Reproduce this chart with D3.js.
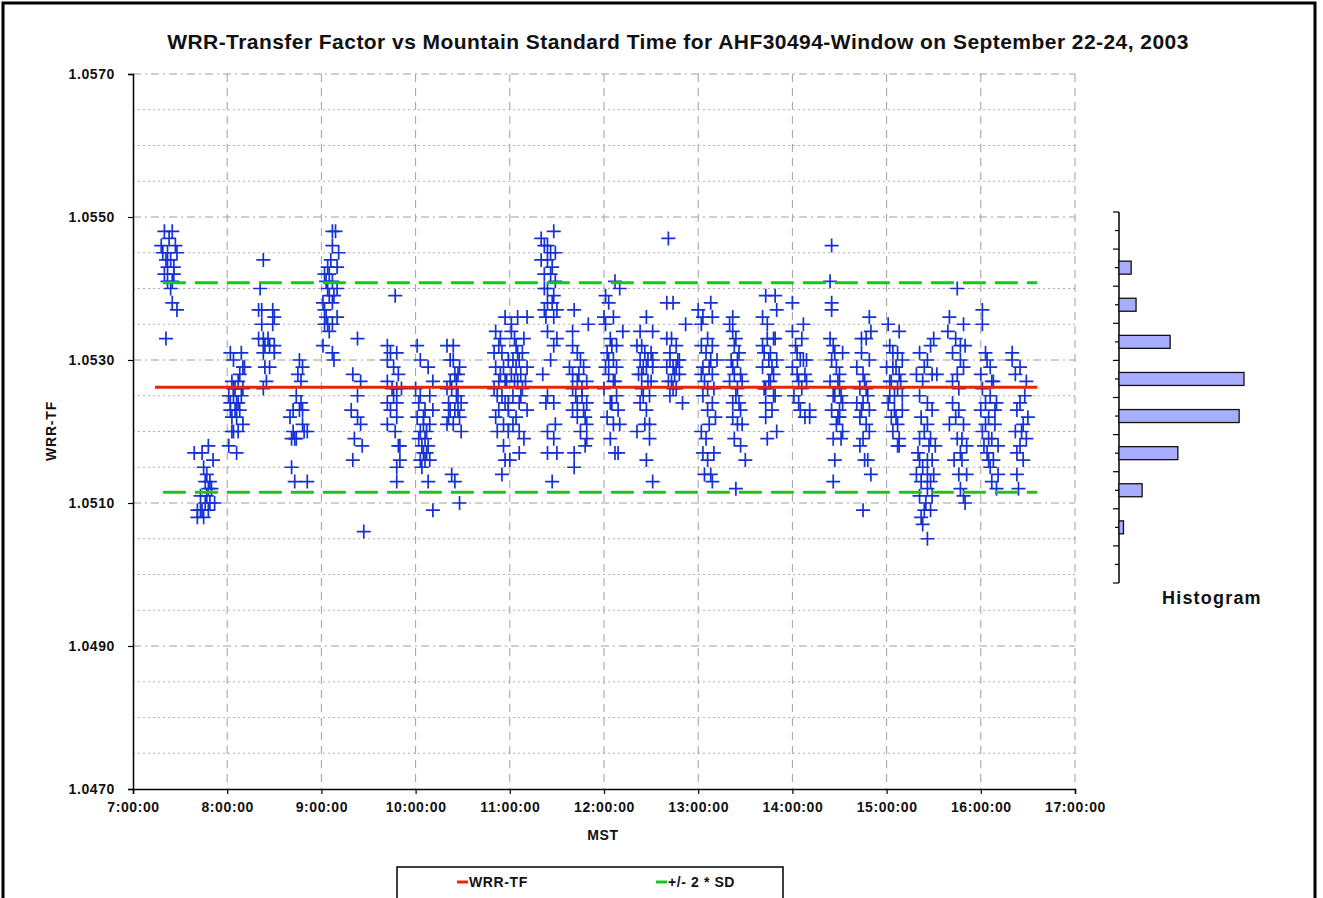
<!DOCTYPE html>
<html>
<head>
<meta charset="utf-8">
<script src="https://cdn.jsdelivr.net/npm/d3@7"></script>
<style>
  body { margin: 0; background: #fff; }
  text { font-family: "Liberation Sans", Arial, sans-serif; font-weight: bold; fill: #111; }
</style>
</head>
<body>
<div id="chart"></div>
<script>
var width = 1323;
var height = 898;

// chart values
const titleText = "WRR-Transfer Factor vs Mountain Standard Time for AHF30494-Window on September 22-24, 2003";
const yTicks = [1.0470, 1.0490, 1.0510, 1.0530, 1.0550, 1.0570];
const meanTF = 1.05262;
const upper2SD = 1.05408;
const lower2SD = 1.05115;
const lineStart = "7:14";
const sdStart = "7:19";
const lineEnd = "16:36";

// histogram (bins from high to low TF)
const histBins = [1.0550, 1.0545, 1.0540, 1.0535, 1.0530, 1.0525, 1.0520, 1.0515, 1.0510, 1.0505];
const histCounts = [0, 30, 42, 126, 308, 296, 145, 57, 11, 0];

// WRR-TF readings [MST, value]
const wrrPoints = [
  ["7:20",1.0548],["7:25",1.0548],["7:19",1.0545],["7:22",1.0545],["7:27",1.0546],["7:28",1.0545],["7:24",1.0544],["7:22",1.0543],["7:26",1.0543],["7:20",1.0542],["7:22",1.0541],["7:25",1.0541],["7:24",1.0540],["7:25",1.0538],["7:28",1.0537],["7:21",1.0533],["7:18",1.0546],["7:23",1.0547],["7:26",1.0542],["7:21",1.0544],
  ["7:39",1.0517],["7:48",1.0518],["7:44",1.0517],["7:51",1.0516],["7:45",1.0515],["7:47",1.0514],["7:49",1.0513],["7:46",1.0513],["7:48",1.0512],["7:50",1.0512],["7:43",1.0511],["7:46",1.0510],["7:49",1.0510],["7:41",1.0509],["7:44",1.0509],["7:48",1.0509],["7:52",1.0510],["7:41",1.0508],["7:45",1.0508],["7:47",1.0511],["7:43",1.0509],
  ["8:02",1.0531],["8:09",1.0531],["8:04",1.0530],["8:10",1.0529],["8:11",1.0529],["8:08",1.0528],["8:07",1.0527],["8:01",1.0525],["8:04",1.0525],["8:06",1.0524],["8:02",1.0523],["8:05",1.0523],["8:08",1.0523],["8:03",1.0522],["8:06",1.0522],["8:10",1.0521],["8:04",1.0520],["8:07",1.0520],["8:01",1.0518],["8:06",1.0517],["8:02",1.0524],["8:09",1.0525],["8:04",1.0526],["8:10",1.0526],
  ["8:03",1.0527],["8:05",1.0526],["8:07",1.0524],["8:03",1.0520],
  ["8:23",1.0544],["8:21",1.0540],["8:20",1.0537],["8:22",1.0537],["8:29",1.0537],["8:30",1.0536],["8:22",1.0535],["8:29",1.0535],["8:20",1.0533],["8:23",1.0533],["8:26",1.0533],["8:24",1.0532],["8:27",1.0532],["8:30",1.0532],["8:23",1.0531],["8:30",1.0531],["8:24",1.0529],["8:27",1.0529],["8:25",1.0527],["8:23",1.0526],
  ["8:41",1.0515],["8:43",1.0513],["8:51",1.0513],["8:40",1.0522],["8:42",1.0523],["8:46",1.0523],["8:48",1.0523],["8:47",1.0524],["8:44",1.0525],["8:45",1.0528],["8:46",1.0530],["8:48",1.0529],["8:47",1.0527],["8:42",1.0520],["8:44",1.0519],["8:43",1.0519],["8:49",1.0520],["8:51",1.0520],["8:41",1.0519],["8:48",1.0521],
  ["9:07",1.0548],["9:09",1.0548],["9:07",1.0546],["9:11",1.0545],["9:04",1.0543],["9:05",1.0542],["9:10",1.0543],["9:02",1.0542],["9:07",1.0541],["9:04",1.0540],["9:10",1.0540],["9:05",1.0539],["9:01",1.0538],["9:07",1.0538],["9:02",1.0537],["9:10",1.0536],["9:04",1.0535],["9:07",1.0535],["9:02",1.0535],["9:05",1.0534],["9:01",1.0532],["9:07",1.0531],["9:08",1.0530],
  ["9:03",1.0541],["9:06",1.0544],["9:08",1.0539],["9:03",1.0536],
  ["9:23",1.0533],["9:20",1.0528],["9:25",1.0527],["9:23",1.0525],["9:19",1.0523],["9:23",1.0522],["9:25",1.0521],["9:21",1.0519],["9:26",1.0518],["9:20",1.0516],["9:27",1.0506],
  ["9:47",1.0539],["9:42",1.0532],["9:44",1.0531],["9:48",1.0531],["9:42",1.0530],["9:46",1.0529],["9:49",1.0528],["9:42",1.0527],["9:45",1.0526],["9:48",1.0526],["9:51",1.0526],["9:46",1.0525],["9:42",1.0524],["9:48",1.0524],["9:44",1.0523],["9:48",1.0522],["9:42",1.0521],["9:47",1.0520],["9:49",1.0518],["9:50",1.0518],["9:50",1.0516],["9:48",1.0515],["9:48",1.0513],
  ["10:01",1.0532],["10:03",1.0530],["10:08",1.0529],["10:11",1.0527],["10:00",1.0526],["10:03",1.0525],["10:06",1.0523],["10:11",1.0523],["10:01",1.0522],["10:05",1.0521],["10:09",1.0521],["10:03",1.0520],["10:06",1.0519],["10:08",1.0518],["10:05",1.0517],["10:09",1.0516],["10:03",1.0516],["10:06",1.0516],["10:08",1.0513],["10:11",1.0509],["10:04",1.0518],["10:07",1.0520],["10:02",1.0519],
  ["10:02",1.0524],["10:05",1.0522],["10:09",1.0525],["10:04",1.0515],["10:07",1.0517],
  ["10:20",1.0532],["10:24",1.0532],["10:24",1.0530],["10:28",1.0529],["10:27",1.0528],["10:20",1.0526],["10:26",1.0525],["10:21",1.0524],["10:25",1.0523],["10:29",1.0524],["10:22",1.0523],["10:28",1.0522],["10:24",1.0521],["10:29",1.0520],["10:23",1.0514],["10:25",1.0513],["10:28",1.0510],["10:22",1.0527],["10:26",1.0527],["10:23",1.0526],["10:27",1.0525],["10:21",1.0522],
  ["10:25",1.0528],["10:22",1.0530],["10:27",1.0523],["10:20",1.0521],
  ["10:51",1.0534],["10:57",1.0536],["11:01",1.0535],["10:53",1.0532],["10:55",1.0531],["10:59",1.0530],["10:51",1.0529],["10:56",1.0529],["10:53",1.0527],["10:57",1.0527],["10:50",1.0526],["10:55",1.0525],["10:59",1.0524],["10:53",1.0523],["10:59",1.0523],["10:51",1.0522],["10:56",1.0521],["10:59",1.0520],["10:57",1.0516],["11:00",1.0516],["10:55",1.0514],["10:54",1.0528],["10:52",1.0525],["10:57",1.0524],
  ["10:50",1.0531],["10:54",1.0533],["10:58",1.0527],["10:52",1.0520],["10:56",1.0518],
  ["11:05",1.0536],["11:11",1.0536],["11:01",1.0534],["11:04",1.0532],["11:08",1.0531],["11:02",1.0530],["11:06",1.0530],["11:11",1.0529],["11:01",1.0528],["11:05",1.0527],["11:08",1.0526],["11:02",1.0525],["11:06",1.0524],["11:11",1.0523],["11:02",1.0521],["11:06",1.0520],["11:09",1.0519],["11:06",1.0517],["11:05",1.0531],["11:03",1.0527],["11:07",1.0528],["11:04",1.0529],
  ["11:03",1.0533],["11:09",1.0533],["11:07",1.0525],["11:10",1.0527],["11:04",1.0522],
  ["11:20",1.0547],["11:28",1.0548],["11:22",1.0546],["11:24",1.0546],["11:29",1.0545],["11:20",1.0544],["11:24",1.0544],["11:27",1.0543],["11:22",1.0542],["11:26",1.0542],["11:29",1.0541],["11:24",1.0540],["11:28",1.0539],["11:24",1.0538],["11:30",1.0537],["11:22",1.0537],["11:23",1.0536],["11:28",1.0536],["11:24",1.0534],["11:30",1.0533],["11:28",1.0532],["11:26",1.0530],["11:21",1.0528],["11:24",1.0525],["11:28",1.0524],["11:23",1.0524],["11:29",1.0521],["11:24",1.0520],["11:28",1.0519],["11:24",1.0517],["11:30",1.0517],["11:27",1.0513],
  ["11:26",1.0545],["11:22",1.0540],["11:27",1.0538],
  ["11:41",1.0537],["11:50",1.0535],["11:40",1.0534],["11:40",1.0532],["11:43",1.0531],["11:45",1.0530],["11:38",1.0529],["11:47",1.0529],["11:40",1.0528],["11:43",1.0527],["11:49",1.0527],["11:40",1.0526],["11:46",1.0525],["11:43",1.0524],["11:49",1.0524],["11:40",1.0523],["11:47",1.0523],["11:43",1.0522],["11:49",1.0521],["11:45",1.0520],["11:49",1.0519],["11:41",1.0517],["11:48",1.0518],["11:41",1.0515],
  ["11:44",1.0528],["11:46",1.0526],["11:42",1.0525],["11:48",1.0522],
  ["12:07",1.0541],["12:10",1.0540],["12:01",1.0539],["12:03",1.0538],["12:00",1.0536],["12:06",1.0536],["12:01",1.0535],["12:12",1.0534],["12:04",1.0533],["12:08",1.0532],["12:02",1.0531],["12:06",1.0530],["12:01",1.0529],["12:08",1.0529],["12:03",1.0528],["12:06",1.0527],["12:00",1.0526],["12:08",1.0525],["12:04",1.0524],["12:09",1.0523],["12:02",1.0522],["12:06",1.0521],["12:10",1.0521],["12:04",1.0519],["12:07",1.0517],["12:09",1.0517],
  ["12:05",1.0532],["12:03",1.0530],["12:07",1.0527],["12:05",1.0524],
  ["12:23",1.0534],["12:27",1.0536],["12:31",1.0534],["12:21",1.0532],["12:26",1.0531],["12:31",1.0530],["12:23",1.0530],["12:27",1.0529],["12:31",1.0529],["12:22",1.0528],["12:28",1.0527],["12:25",1.0525],["12:29",1.0525],["12:23",1.0524],["12:27",1.0523],["12:26",1.0521],["12:29",1.0521],["12:21",1.0520],["12:29",1.0519],["12:27",1.0516],["12:31",1.0513],["12:24",1.0528],["12:30",1.0527],
  ["12:24",1.0532],["12:28",1.0530],["12:25",1.0529],["12:30",1.0531],["12:24",1.0526],
  ["12:41",1.0547],["12:40",1.0538],["12:44",1.0538],["12:52",1.0535],["12:40",1.0533],["12:43",1.0533],["12:46",1.0532],["12:42",1.0530],["12:47",1.0530],["12:44",1.0529],["12:40",1.0529],["12:48",1.0528],["12:45",1.0528],["12:43",1.0527],["12:42",1.0525],["12:50",1.0524],["12:46",1.0526],["12:41",1.0527],
  ["12:42",1.0531],["12:46",1.0529],["12:44",1.0526],["12:48",1.0530],
  ["13:00",1.0537],["13:08",1.0538],["13:03",1.0536],["13:09",1.0536],["13:02",1.0535],["13:06",1.0533],["13:09",1.0532],["13:02",1.0532],["13:08",1.0530],["13:12",1.0530],["13:03",1.0529],["13:09",1.0528],["13:02",1.0528],["13:06",1.0526],["13:03",1.0525],["13:09",1.0524],["13:06",1.0523],["13:11",1.0522],["13:02",1.0520],["13:07",1.0521],["13:03",1.0517],["13:10",1.0517],["13:06",1.0516],["13:08",1.0514],["13:09",1.0513],["13:04",1.0514],
  ["13:05",1.0531],["13:07",1.0529],["13:04",1.0527],["13:10",1.0526],["13:05",1.0519],
  ["13:22",1.0536],["13:20",1.0535],["13:22",1.0534],["13:23",1.0532],["13:25",1.0530],["13:22",1.0529],["13:27",1.0528],["13:20",1.0527],["13:28",1.0527],["13:24",1.0525],["13:22",1.0524],["13:27",1.0523],["13:22",1.0522],["13:28",1.0521],["13:23",1.0519],["13:27",1.0518],["13:30",1.0516],["13:24",1.0512],["13:25",1.0526],["13:21",1.0530],
  ["13:24",1.0533],["13:26",1.0531],["13:23",1.0528],["13:26",1.0524],["13:25",1.0521],
  ["13:41",1.0536],["13:43",1.0539],["13:49",1.0539],["14:00",1.0538],["13:50",1.0537],["13:44",1.0535],["13:48",1.0533],["13:41",1.0532],["13:46",1.0531],["13:50",1.0530],["13:41",1.0529],["13:48",1.0528],["13:43",1.0526],["13:49",1.0525],["13:43",1.0524],["13:47",1.0523],["13:43",1.0522],["13:50",1.0520],["13:44",1.0519],["13:45",1.0530],["13:46",1.0527],["13:42",1.0531],["13:48",1.0525],
  ["13:44",1.0533],["13:47",1.0529],["13:45",1.0527],["13:49",1.0533],["13:42",1.0526],
  ["14:00",1.0534],["14:07",1.0535],["14:06",1.0533],["14:03",1.0531],["14:07",1.0530],["14:00",1.0529],["14:09",1.0530],["14:03",1.0528],["14:09",1.0527],["14:01",1.0525],["14:11",1.0523],["14:05",1.0523],["14:08",1.0522],["14:11",1.0522],["14:04",1.0527],["14:06",1.0526],
  ["14:02",1.0532],["14:05",1.0530],["14:08",1.0528],["14:04",1.0524],
  ["14:25",1.0546],["14:24",1.0541],["14:25",1.0538],["14:25",1.0537],["14:24",1.0533],["14:26",1.0532],["14:25",1.0530],["14:32",1.0531],["14:28",1.0529],["14:30",1.0528],["14:24",1.0527],["14:30",1.0526],["14:27",1.0525],["14:32",1.0524],["14:25",1.0523],["14:30",1.0523],["14:30",1.0522],["14:28",1.0521],["14:32",1.0520],["14:26",1.0519],["14:31",1.0519],["14:27",1.0516],["14:26",1.0513],
  ["14:27",1.0531],["14:29",1.0527],["14:26",1.0525],["14:31",1.0525],["14:29",1.0522],
  ["14:49",1.0536],["14:44",1.0533],["14:47",1.0533],["14:50",1.0534],["14:41",1.0529],["14:45",1.0528],["14:49",1.0530],["14:43",1.0526],["14:47",1.0526],["14:41",1.0524],["14:45",1.0524],["14:49",1.0523],["14:43",1.0522],["14:47",1.0521],["14:45",1.0519],["14:49",1.0520],["14:43",1.0518],["14:46",1.0516],["14:48",1.0516],["14:50",1.0514],["14:45",1.0509],
  ["14:44",1.0531],["14:46",1.0527],["14:48",1.0525],["14:44",1.0523],
  ["15:01",1.0535],["15:08",1.0534],["15:02",1.0532],["15:07",1.0531],["15:10",1.0530],["15:00",1.0529],["15:04",1.0529],["15:08",1.0528],["15:02",1.0527],["15:07",1.0526],["15:10",1.0525],["15:01",1.0524],["15:05",1.0523],["15:10",1.0523],["15:03",1.0522],["15:07",1.0521],["15:04",1.0520],["15:08",1.0519],["15:07",1.0518],["15:08",1.0518],["15:03",1.0527],["15:05",1.0525],
  ["15:04",1.0531],["15:06",1.0529],["15:02",1.0525],["15:06",1.0522],["15:09",1.0527],
  ["15:21",1.0531],["15:26",1.0530],["15:30",1.0533],["15:28",1.0532],["15:19",1.0528],["15:23",1.0527],["15:29",1.0528],["15:32",1.0528],["15:21",1.0525],["15:26",1.0524],["15:22",1.0522],["15:29",1.0523],["15:26",1.0521],["15:21",1.0519],["15:28",1.0519],["15:31",1.0518],["15:20",1.0517],["15:26",1.0516],["15:21",1.0516],["15:29",1.0516],["15:19",1.0514],["15:26",1.0514],["15:30",1.0514],["15:22",1.0513],["15:26",1.0512],["15:21",1.0511],["15:29",1.0511],["15:24",1.0509],["15:28",1.0509],["15:22",1.0508],["15:23",1.0507],["15:26",1.0505],
  ["15:24",1.0529],["15:24",1.0520],["15:27",1.0518],["15:23",1.0515],["15:28",1.0513],["15:25",1.0510],
  ["15:45",1.0540],["15:40",1.0536],["15:49",1.0535],["15:39",1.0534],["15:47",1.0532],["15:50",1.0532],["15:42",1.0531],["15:47",1.0530],["15:49",1.0529],["15:42",1.0527],["15:45",1.0528],["15:42",1.0524],["15:46",1.0523],["15:49",1.0521],["15:40",1.0521],["15:45",1.0519],["15:51",1.0518],["15:47",1.0517],["15:43",1.0516],["15:48",1.0516],["15:51",1.0514],["15:47",1.0512],["15:49",1.0511],["15:50",1.0510],
  ["15:44",1.0533],["15:46",1.0526],["15:44",1.0522],["15:46",1.0514],["15:48",1.0519],
  ["16:01",1.0537],["16:01",1.0535],["16:04",1.0530],["16:06",1.0529],["16:00",1.0528],["16:08",1.0527],["16:01",1.0526],["16:06",1.0525],["16:10",1.0524],["16:00",1.0523],["16:05",1.0522],["16:09",1.0521],["16:01",1.0520],["16:07",1.0519],["16:11",1.0518],["16:04",1.0517],["16:08",1.0516],["16:06",1.0515],["16:11",1.0514],["16:07",1.0513],["16:10",1.0512],["16:03",1.0524],["16:05",1.0519],
  ["16:03",1.0531],["16:07",1.0527],["16:03",1.0521],["16:05",1.0516],["16:09",1.0523],["16:02",1.0518],
  ["16:20",1.0531],["16:20",1.0530],["16:22",1.0528],["16:29",1.0527],["16:25",1.0524],["16:23",1.0523],["16:30",1.0522],["16:27",1.0521],["16:22",1.0520],["16:26",1.0520],["16:29",1.0519],["16:23",1.0517],["16:27",1.0516],["16:23",1.0514],["16:24",1.0512],
  ["16:25",1.0529],["16:28",1.0525],["16:25",1.0518]
];

const parseTime = d3.timeParse("%H:%M");

// The svg
var svg = d3.select("#chart")
  .append("svg")
  .attr("width", width)
  .attr("height", height)

// outer frame
svg.append("rect")
  .attr("x", 3).attr("y", 3)
  .attr("width", 1312).attr("height", 910)
  .attr("fill", "none")
  .attr("stroke", "#000")
  .attr("stroke-width", 3)

svg.append("text")
  .attr("x", 678).attr("y", 49)
  .attr("text-anchor", "middle")
  .style("font-size", "21px")
  .style("letter-spacing", "0.45px")
  .text(titleText)

// scales
const x = d3.scaleTime()
  .domain([parseTime("7:00"), parseTime("17:00")])
  .range([133, 1075])

const y = d3.scaleLinear()
  .domain([1.0470, 1.0570])
  .range([789, 74])

const hours = x.ticks(d3.timeHour.every(1))
const minorY = d3.range(0, 21).map(i => 1.0470 + i * 0.0005)
  .filter(v => !yTicks.some(t => Math.abs(t - v) < 1e-7))

// grid
const grid = svg.append("g")
grid.selectAll(".minor")
  .data(minorY)
  .join("line")
    .attr("x1", 133).attr("x2", 1075)
    .attr("y1", d => y(d)).attr("y2", d => y(d))
    .attr("stroke", "#b0b0b0")
    .attr("stroke-width", 1)
    .attr("stroke-dasharray", "2,3")
grid.selectAll(".major")
  .data(yTicks.slice(1))
  .join("line")
    .attr("x1", 133).attr("x2", 1075)
    .attr("y1", d => y(d)).attr("y2", d => y(d))
    .attr("stroke", "#a0a0a0")
    .attr("stroke-width", 1)
    .attr("stroke-dasharray", "8,4,2,4")
grid.selectAll(".vert")
  .data(hours.slice(1))
  .join("line")
    .attr("x1", d => x(d)).attr("x2", d => x(d))
    .attr("y1", 74).attr("y2", 789)
    .attr("stroke", "#a0a0a0")
    .attr("stroke-width", 1)
    .attr("stroke-dasharray", "8,6")

// axes
const yAxis = svg.append("g")
  .attr("transform", "translate(133,0)")
  .call(d3.axisLeft(y).tickValues(yTicks).tickFormat(d3.format(".4f")).tickSize(5).tickPadding(13))
const xAxis = svg.append("g")
  .attr("transform", "translate(0,789)")
  .call(d3.axisBottom(x).tickValues(hours).tickFormat(d3.timeFormat("%-H:%M:%S")).tickSize(5).tickPadding(8))

for (const ax of [yAxis, xAxis]) {
  ax.select(".domain").attr("stroke", "#000").attr("stroke-width", 1.5)
  ax.selectAll(".tick line").attr("stroke", "#000").attr("stroke-width", 1.2)
  ax.selectAll(".tick text")
    .style("font-size", "14px")
    .style("letter-spacing", "0.6px")
    .style("font-family", "'Liberation Sans', Arial, sans-serif")
    .attr("fill", "#111")
}

svg.append("text")
  .attr("transform", "translate(56,431) rotate(-90)")
  .attr("text-anchor", "middle")
  .style("font-size", "14px")
  .style("letter-spacing", "0.8px")
  .text("WRR-TF")

svg.append("text")
  .attr("x", 603).attr("y", 840)
  .attr("text-anchor", "middle")
  .style("font-size", "14px")
  .style("letter-spacing", "0.6px")
  .text("MST")

// points
svg.append("g")
  .selectAll("path")
  .data(wrrPoints)
  .join("path")
    .attr("transform", d => "translate(" + x(parseTime(d[0])) + "," + y(d[1]) + ")")
    .attr("d", "M-7,0H7M0,-7V7")
    .attr("stroke", "#1430d6")
    .attr("stroke-width", 1.7)
    .attr("fill", "none")

// mean and +/- 2 SD lines
const lineGen = d3.line().x(d => x(parseTime(d[0]))).y(d => y(d[1]))
svg.append("path")
  .attr("d", lineGen([[lineStart, meanTF], [lineEnd, meanTF]]))
  .attr("stroke", "#e8240e").attr("stroke-width", 3).attr("fill", "none")
for (const v of [upper2SD, lower2SD]) {
  svg.append("path")
    .attr("d", lineGen([[sdStart, v], [lineEnd, v]]))
    .attr("stroke", "#1ec41e").attr("stroke-width", 3)
    .attr("stroke-dasharray", "23,9").attr("fill", "none")
}

// histogram
const hy = d3.scaleBand()
  .domain(histBins)
  .range([212, 583])
  .paddingInner(0.65)
  .paddingOuter(0.325)
const hx = d3.scaleLinear()
  .domain([0, 308])
  .range([1119, 1244])

const hg = svg.append("g")
hg.append("line")
  .attr("x1", 1119).attr("x2", 1119).attr("y1", 212).attr("y2", 583)
  .attr("stroke", "#000").attr("stroke-width", 1.5)
const hstep = hy.step() / 2
hg.selectAll(".htick")
  .data(d3.range(0, histBins.length * 2 + 1))
  .join("line")
    .attr("x1", i => i % 2 === 0 ? 1113 : 1115).attr("x2", 1119)
    .attr("y1", i => 212 + i * hstep).attr("y2", i => 212 + i * hstep)
    .attr("stroke", "#000").attr("stroke-width", 1.2)
hg.selectAll("rect")
  .data(histBins.map((b, i) => ({bin: b, n: histCounts[i]})).filter(d => d.n > 0))
  .join("rect")
    .attr("x", hx(0))
    .attr("y", d => hy(d.bin))
    .attr("width", d => hx(d.n) - hx(0))
    .attr("height", hy.bandwidth())
    .attr("fill", "#a9adff")
    .attr("stroke", "#111")
    .attr("stroke-width", 1.3)

svg.append("text")
  .attr("x", 1162).attr("y", 604)
  .style("font-size", "18px")
  .style("letter-spacing", "1.2px")
  .text("Histogram")

// legend
const lg = svg.append("g")
lg.append("rect")
  .attr("x", 397).attr("y", 867)
  .attr("width", 386).attr("height", 40)
  .attr("fill", "#fff").attr("stroke", "#000").attr("stroke-width", 1.5)
const legendItems = [["WRR-TF", "#e8240e", 457], ["+/- 2 * SD", "#1ec41e", 656]]
lg.selectAll(".sw")
  .data(legendItems)
  .join("line")
    .attr("x1", d => d[2]).attr("x2", d => d[2] + 11)
    .attr("y1", 882).attr("y2", 882)
    .attr("stroke", d => d[1]).attr("stroke-width", 3)
lg.selectAll("text")
  .data(legendItems)
  .join("text")
    .attr("x", d => d[2] + 12).attr("y", 887)
    .style("font-size", "14px")
    .style("letter-spacing", "0.6px")
    .text(d => d[0])
</script>
</body>
</html>
